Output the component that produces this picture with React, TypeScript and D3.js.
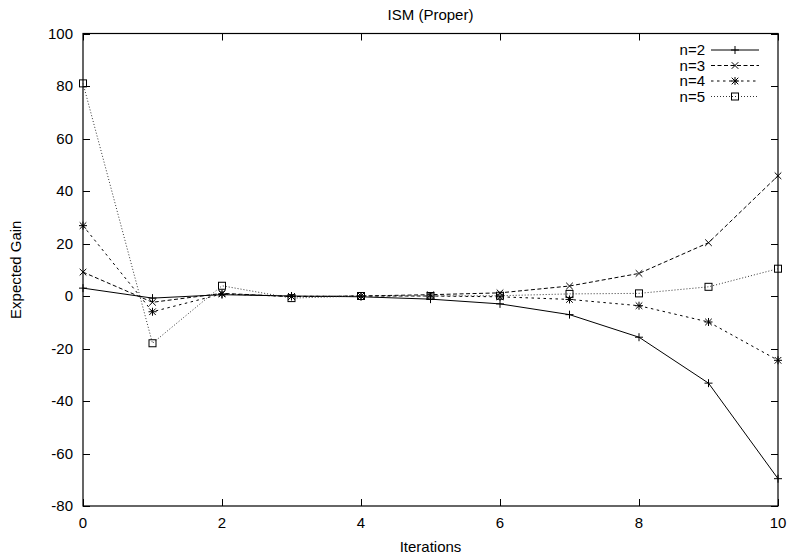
import * as d3 from 'd3';
import { useEffect, useRef } from 'react';

const iterations = [0, 1, 2, 3, 4, 5, 6, 7, 8, 9, 10];
const n2 = [3, -0.8, 0.5, 0, -0.3, -1.2, -3, -7.1, -15.7, -33.2, -69.6];
const n3 = [9.1, -2.4, 1, -0.2, 0, 0.5, 1.2, 3.8, 8.6, 20.3, 45.8];
const n4 = [26.8, -6, 0.8, -0.2, 0, 0, -0.3, -1.3, -3.7, -9.9, -24.5];
const n5 = [81, -18, 3.9, -0.8, 0, 0, 0.1, 0.8, 1.0, 3.5, 10.4];
const seriesNames = ['n=2', 'n=3', 'n=4', 'n=5'];
const xTicks = [0, 2, 4, 6, 8, 10];
const yTicks = [-80, -60, -40, -20, 0, 20, 40, 60, 80, 100];

export default function App() {
  const ref = useRef<SVGSVGElement>(null);

  useEffect(() => {
    const svg = d3.select(ref.current);
    svg.selectAll('*').remove();

    const left = 83, right = 778, top = 33.5, bottom = 506;
    const font = 'Liberation Sans, Arial, sans-serif';

    const x = d3.scaleLinear().domain([0, 10]).range([left, right]);
    const y = d3.scaleLinear().domain([-80, 100]).range([bottom, top]);

    const styles = [
      { dash: null, marker: 'plus' },
      { dash: '4,2.5', marker: 'cross' },
      { dash: '2.5,3.5', marker: 'star' },
      { dash: '1,2', marker: 'square' },
    ];
    const allSeries = [n2, n3, n4, n5];

    // frame
    svg.append('rect')
      .attr('x', left).attr('y', top)
      .attr('width', right - left).attr('height', bottom - top)
      .attr('fill', 'none').attr('stroke', '#000').attr('stroke-width', 1.2);

    // ticks (mirrored, inward)
    const tl = 7;
    yTicks.forEach(t => {
      const yy = Math.round(y(t)) + 0.5;
      svg.append('line').attr('x1', left).attr('x2', left + tl).attr('y1', yy).attr('y2', yy).attr('stroke', '#000');
      svg.append('line').attr('x1', right - tl).attr('x2', right).attr('y1', yy).attr('y2', yy).attr('stroke', '#000');
      svg.append('text')
        .attr('x', left - 10).attr('y', y(t)).attr('dy', '0.36em')
        .attr('text-anchor', 'end')
        .attr('font-family', font).attr('font-size', 15)
        .text(t);
    });
    xTicks.forEach(t => {
      const xx = Math.round(x(t)) + 0.5;
      svg.append('line').attr('x1', xx).attr('x2', xx).attr('y1', bottom).attr('y2', bottom - tl).attr('stroke', '#000');
      svg.append('line').attr('x1', xx).attr('x2', xx).attr('y1', top).attr('y2', top + tl).attr('stroke', '#000');
      svg.append('text')
        .attr('x', x(t)).attr('y', 528)
        .attr('text-anchor', 'middle')
        .attr('font-family', font).attr('font-size', 15)
        .text(t);
    });

    // titles
    svg.append('text').attr('x', (left + right) / 2).attr('y', 20)
      .attr('text-anchor', 'middle').attr('font-family', font).attr('font-size', 15)
      .text('ISM (Proper)');
    svg.append('text').attr('x', (left + right) / 2).attr('y', 552)
      .attr('text-anchor', 'middle').attr('font-family', font).attr('font-size', 15)
      .text('Iterations');
    svg.append('text')
      .attr('transform', `translate(21,${(top + bottom) / 2}) rotate(-90)`)
      .attr('text-anchor', 'middle').attr('font-family', font).attr('font-size', 15)
      .text('Expected Gain');

    function drawMarker(g: any, kind: string, cx: number, cy: number) {
      const s = 4;
      if (kind === 'plus' || kind === 'star') {
        g.append('line').attr('x1', cx - s).attr('x2', cx + s).attr('y1', cy).attr('y2', cy).attr('stroke', '#000');
        g.append('line').attr('x1', cx).attr('x2', cx).attr('y1', cy - s).attr('y2', cy + s).attr('stroke', '#000');
      }
      if (kind === 'cross' || kind === 'star') {
        const d = 3.3;
        g.append('line').attr('x1', cx - d).attr('x2', cx + d).attr('y1', cy - d).attr('y2', cy + d).attr('stroke', '#000');
        g.append('line').attr('x1', cx - d).attr('x2', cx + d).attr('y1', cy + d).attr('y2', cy - d).attr('stroke', '#000');
      }
      if (kind === 'square') {
        g.append('rect').attr('x', cx - 3.5).attr('y', cy - 3.5).attr('width', 7).attr('height', 7)
          .attr('fill', 'none').attr('stroke', '#000');
      }
    }

    const line = d3.line<number>().x((d, i) => x(iterations[i])).y(d => y(d));

    allSeries.forEach((vals, si) => {
      const st = styles[si];
      const g = svg.append('g');
      const p = g.append('path').attr('d', line(vals)).attr('fill', 'none')
        .attr('stroke', si === 3 ? '#333' : '#000').attr('stroke-width', 1);
      if (st.dash) p.attr('stroke-dasharray', st.dash);
      vals.forEach((v, i) => drawMarker(g, st.marker, x(iterations[i]), y(v)));

      // legend
      const ly = 50 + si * 15.5;
      svg.append('text').attr('x', 705).attr('y', ly).attr('dy', '0.36em')
        .attr('text-anchor', 'end').attr('font-family', font).attr('font-size', 15)
        .text(seriesNames[si]);
      const ll = svg.append('line').attr('x1', 711).attr('x2', 759).attr('y1', ly).attr('y2', ly)
        .attr('stroke', si === 3 ? '#333' : '#000');
      if (st.dash) ll.attr('stroke-dasharray', st.dash);
      drawMarker(svg, st.marker, 735, ly);
    });
  }, []);

  return (
    <div style={{ position: 'absolute', left: 0, top: 0 }}>
      <svg ref={ref} width={790} height={557} style={{ display: 'block', background: '#fff' }}></svg>
    </div>
  );
}
